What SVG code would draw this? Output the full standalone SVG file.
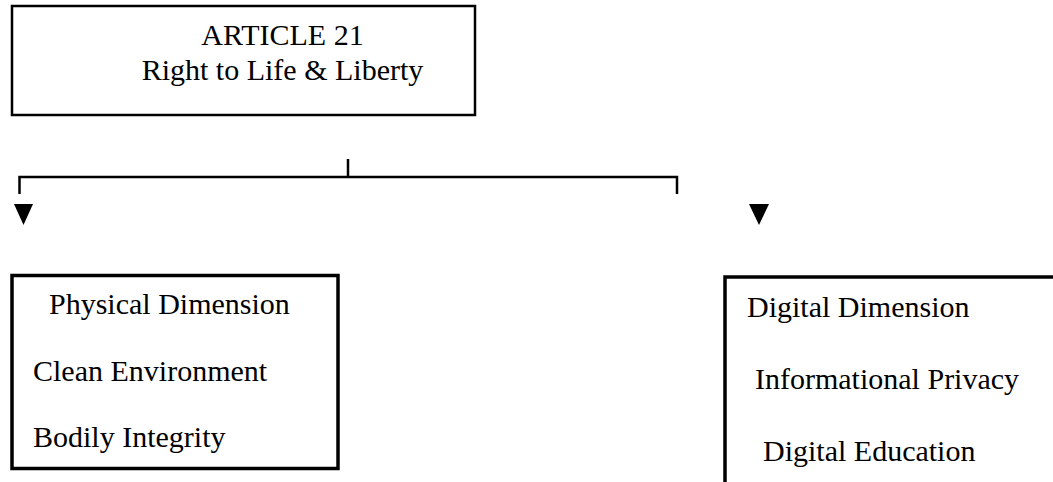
<svg xmlns="http://www.w3.org/2000/svg" width="1053" height="482" viewBox="0 0 1053 482">
<style>
.box{fill:#fff;stroke:#000;stroke-width:2.5}
.bx{fill:#fff;stroke:#000;stroke-width:3.5}
.t{font-family:"Liberation Serif","Times New Roman",serif;font-size:30px;fill:#000}
.c{text-anchor:middle}
.ln{stroke:#000;stroke-width:2.5;fill:none}
.ar{fill:#000}
</style>
<rect width="1053" height="482" fill="#fff"/>
<g id="article21">
<rect class="box" x="12" y="6" width="463" height="109"/>
<text class="t c" x="282.5" y="45">ARTICLE 21</text>
<text class="t c" x="282.5" y="80">Right to Life &amp; Liberty</text>
</g>
<g id="connectors">
<path class="ln" d="M348 159 V177 M19.5 194 V177 H677 V194"/>
<polygon class="ar" points="14,204 33,204 23.5,225"/>
<polygon class="ar" points="749,204 769,204 759,225"/>
</g>
<g id="physical">
<rect class="bx" x="12" y="275.5" width="326" height="193"/>
<text class="t" x="49" y="314">Physical Dimension</text>
<text class="t" x="33" y="381">Clean Environment</text>
<text class="t" x="33" y="447">Bodily Integrity</text>
</g>
<g id="digital">
<rect class="bx" x="725" y="277" width="340" height="220"/>
<text class="t" x="747" y="317">Digital Dimension</text>
<text class="t" x="755" y="389">Informational Privacy</text>
<text class="t" x="763" y="461">Digital Education</text>
</g>
</svg>
